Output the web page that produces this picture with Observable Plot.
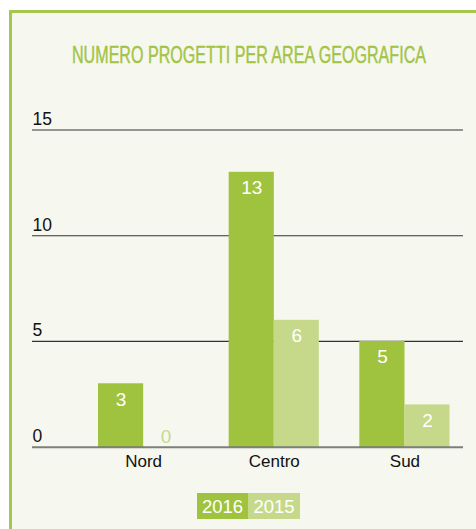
<!DOCTYPE html>
<html><head><meta charset="utf-8">
<script src="https://cdn.jsdelivr.net/npm/d3@7"></script>
<script src="https://cdn.jsdelivr.net/npm/@observablehq/plot@0.6"></script>
<style>
body{margin:0;background:#fff;width:476px;height:529px;overflow:hidden;position:relative;font-family:"Liberation Sans",Arial,sans-serif;}
#panel{position:absolute;left:9px;top:10px;width:480px;height:530px;border-top:3px solid #a5c74d;border-left:3px solid #a5c74d;background:#f6f7ef;}
#title{position:absolute;left:0;top:43.5px;white-space:nowrap;color:#a2c444;font-size:23px;line-height:23px;font-weight:normal;-webkit-text-stroke:0.4px #a2c444;transform-origin:0 50%;}
#chart{position:absolute;left:0;top:100px;}
#legend{position:absolute;left:197px;top:493px;display:flex;}
#legend div{height:26px;line-height:27px;color:#fff;font-size:18.5px;text-align:center;}
</style></head>
<body>
<div id="panel"></div>
<span id="title">NUMERO PROGETTI PER AREA GEOGRAFICA</span>
<div id="chart"></div>
<div id="legend"></div>
<script>
const regions = ["Nord", "Centro", "Sud"];
const years = ["2016", "2015"];
const values2016 = [3, 13, 5];
const values2015 = [0, 6, 2];
const yTicks = [0, 5, 10, 15];
const colors = ["#a0c33f", "#c6d98b"];

const d2016 = regions.map((r, i) => ({region: r, year: years[0], value: values2016[i]}));
const d2015 = regions.map((r, i) => ({region: r, year: years[1], value: values2015[i]}));

const font = '"Liberation Sans",Arial,sans-serif';

const chart = Plot.plot({
  width: 476, height: 380,
  marginLeft: 32, marginRight: 13, marginTop: 29.5, marginBottom: 33.3,
  style: {background: "transparent", fontFamily: font, overflow: "visible"},
  x: {type: "band", domain: regions, range: [98, 449.5], paddingInner: 0.31, paddingOuter: 0, round: false, axis: null},
  y: {domain: [0, 15], axis: null},
  marks: [
    Plot.ruleY(yTicks.filter(d => d > 0), {stroke: "#333", strokeWidth: 1.2}),
    Plot.text(yTicks, {y: d => d, text: d => String(d), frameAnchor: "left", textAnchor: "start", lineAnchor: "bottom", dy: -5, fontSize: 17.5, fill: "#111"}),
    Plot.barY(d2016, {x: "region", y: "value", fill: colors[0], insetRight: 45}),
    Plot.barY(d2015, {x: "region", y: "value", fill: colors[1], insetLeft: 45}),
    Plot.ruleY([0], {stroke: "#555", strokeWidth: 2, strokeOpacity: 0.75}),
    Plot.text(d2016.filter(d => d.value > 0), {x: "region", y: "value", text: d => String(d.value), dx: -22.5, dy: 22, lineAnchor: "bottom", fill: "#fff", fontSize: 19}),
    Plot.text(d2015.filter(d => d.value > 0), {x: "region", y: "value", text: d => String(d.value), dx: 22.5, dy: 22, lineAnchor: "bottom", fill: "#fff", fontSize: 19}),
    Plot.text(d2015.filter(d => d.value === 0), {x: "region", y: "value", text: d => String(d.value), dx: 22.5, dy: -4, lineAnchor: "bottom", fill: colors[1], fontSize: 19}),
    Plot.text(regions, {x: d => d, text: d => d, frameAnchor: "bottom", lineAnchor: "top", dy: 7.3, fontSize: 17, fill: "#111"})
  ]
});
document.getElementById("chart").appendChild(chart);

const legend = document.getElementById("legend");
years.forEach((y, i) => {
  const el = document.createElement("div");
  el.textContent = y;
  el.style.background = colors[i];
  el.style.width = (i === 0 ? 51 : 52) + "px";
  legend.appendChild(el);
});

const t = document.getElementById("title");
const w = t.getBoundingClientRect().width;
const target = 354;
const s = target / w;
t.style.transform = `scaleX(${s})`;
t.style.left = (248.8 - target / 2) + "px";
</script>
</body></html>
